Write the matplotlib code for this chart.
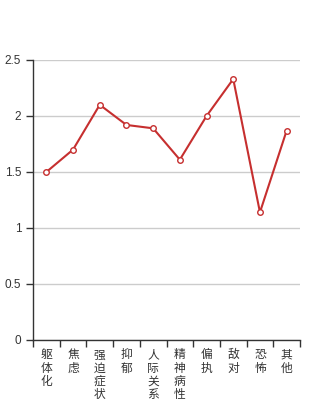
import numpy as np
import matplotlib
matplotlib.use('Agg')
import matplotlib.pyplot as plt
from matplotlib.ticker import FixedLocator, FuncFormatter

plt.rcParams['font.family'] = ['Noto Sans CJK SC', 'DejaVu Sans']

categories = ['躯体化', '焦虑', '强迫症状', '抑郁', '人际关系敏感',
              '精神病性', '偏执', '敌对', '恐怖', '其他']
values = [1.50, 1.70, 2.10, 1.92, 1.89, 1.61, 2.00, 2.33, 1.14, 1.87]
yticks = [0, 0.5, 1, 1.5, 2, 2.5]

fig = plt.figure(figsize=(3.34, 4.0), dpi=100)
ax = fig.add_axes([33/334, 60/400, 267/334, 280/400])

x = np.arange(len(categories))
ax.plot(x, values, color='#c62f2f', linewidth=1.5, marker='o',
        markersize=4, markerfacecolor='white', markeredgecolor='#c62f2f',
        markeredgewidth=1, zorder=3)

ax.set_xlim(-0.5, len(categories) - 0.5)
ax.set_ylim(0, 2.5)

# ticks on band edges, labels at band centres
ax.xaxis.set_major_locator(FixedLocator(np.arange(-0.5, len(categories), 1.0)))
ax.xaxis.set_major_formatter(FuncFormatter(lambda v, p: ''))
ax.xaxis.set_minor_locator(FixedLocator(x))
ax.set_xticklabels(['\n'.join(c) for c in categories], minor=True,
                   fontsize=8.5, color='#333333', linespacing=1.02)
ax.tick_params(axis='x', which='major', length=5, width=1, color='#333333')
ax.tick_params(axis='x', which='minor', length=0, pad=6)

ax.set_yticks(yticks)
ax.yaxis.set_major_formatter(FuncFormatter(lambda v, p: '%g' % v))
ax.tick_params(axis='y', length=5, width=1, color='#333333',
               labelsize=8.5, labelcolor='#333333')
for lab in ax.get_yticklabels():
    lab.set_family(['Liberation Sans', 'DejaVu Sans'])

ax.grid(axis='y', color='#cccccc', linewidth=1)
ax.set_axisbelow(True)
for s in ['top', 'right']:
    ax.spines[s].set_visible(False)
for s in ['left', 'bottom']:
    ax.spines[s].set_color('#333333')
    ax.spines[s].set_linewidth(1)

fig.savefig('out.png', dpi=100)
